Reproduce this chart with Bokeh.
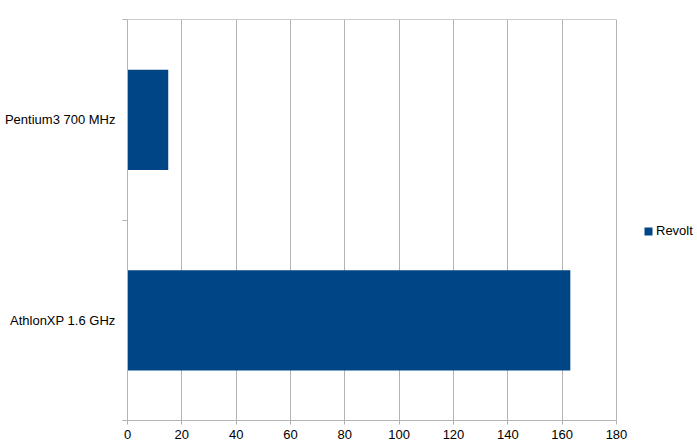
from bokeh.plotting import figure
from bokeh.models import (ColumnDataSource, Range1d, FixedTicker, Legend, LegendItem,
                          LinearAxis)
from bokeh.embed import file_html
from bokeh.resources import INLINE
import numpy as np

# data, bottom category first (as the chart stacks them)
cpus = ["AthlonXP 1.6 GHz", "Pentium3 700 MHz"]
revolt = [163, 15]
x_ticks = [0, 20, 40, 60, 80, 100, 120, 140, 160, 180]

pos = np.arange(len(cpus)) + 0.5
source = ColumnDataSource(dict(y=pos, v=revolt, name=cpus))

FONT = "Liberation Sans"
GRID = "#b3b3b3"
X_MAX = x_ticks[-1]

# the frame runs to the right edge so the legend can sit inside it;
# the extra room past 180 is just left blank
p = figure(width=697, height=448, output_backend="svg", toolbar_location=None,
           x_range=Range1d(0, X_MAX * 570 / 489), y_range=Range1d(0, len(cpus)),
           min_border_left=127, min_border_right=0, min_border_top=19,
           min_border_bottom=28)

r = p.hbar(y="y", right="v", left=0, height=0.5, source=source,
           fill_color="#004586", line_color=None)

# x axis
p.xaxis.ticker = FixedTicker(ticks=x_ticks)
p.xaxis.bounds = (0, X_MAX)
p.xaxis.axis_line_color = GRID
p.xaxis.major_tick_line_color = GRID
p.xaxis.major_tick_out = 4
p.xaxis.major_tick_in = 0
p.xaxis.minor_tick_line_color = None
p.xaxis.major_label_standoff = 5
p.xaxis.major_label_text_font = FONT
p.xaxis.major_label_text_font_size = "13px"
p.xaxis.major_label_text_color = "black"

# top border line of the plot area
top = LinearAxis(ticker=FixedTicker(ticks=[]), bounds=(0, X_MAX),
                 axis_line_color="#cccccc", major_tick_line_color=None,
                 minor_tick_line_color=None, major_tick_out=0, minor_tick_out=0,
                 major_label_standoff=0)
p.add_layout(top, "above")

# y axis: labels at category centres, ticks at the boundaries
p.yaxis.ticker = FixedTicker(ticks=list(pos), minor_ticks=list(range(len(cpus) + 1)))
p.yaxis.major_label_overrides = {float(y): c for y, c in zip(pos, cpus)}
p.yaxis.major_tick_line_color = None
p.yaxis.major_tick_out = 0
p.yaxis.major_tick_in = 0
p.yaxis.minor_tick_line_color = GRID
p.yaxis.minor_tick_out = 5
p.yaxis.minor_tick_in = 0
p.yaxis.axis_line_color = GRID
p.yaxis.major_label_standoff = 7
p.yaxis.major_label_text_font = FONT
p.yaxis.major_label_text_font_size = "13px"
p.yaxis.major_label_text_color = "black"

p.xgrid.ticker = FixedTicker(ticks=x_ticks)
p.xgrid.grid_line_color = GRID
p.ygrid.grid_line_color = None
p.outline_line_color = None

legend = Legend(items=[LegendItem(label="Revolt", renderers=[r])],
                location=(516, 182), padding=0, margin=0,
                glyph_width=10, glyph_height=10, label_standoff=3,
                label_text_font=FONT, label_text_font_size="13px",
                label_text_color="black",
                border_line_color=None, background_fill_alpha=0)
p.add_layout(legend)

open("out.html", "w").write(file_html(p, INLINE))
